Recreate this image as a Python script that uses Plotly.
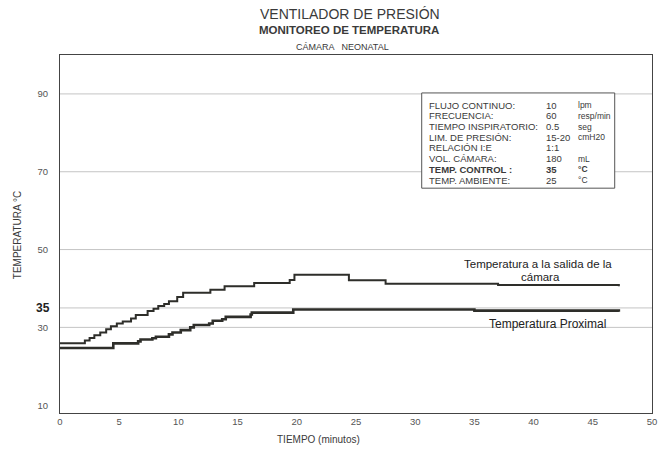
import plotly.graph_objects as go

# ---- data ----
t_salida = [0, 2.1, 2.5, 2.9, 3.4, 3.9, 4.3, 4.8, 5.3, 6.0, 6.4, 7.4, 7.9, 8.3, 8.8,
            9.2, 9.9, 10.4, 12.7, 13.9, 16.4, 19.4, 19.8, 24.4, 27.5, 37.0, 47.2]
temp_salida = [25.9, 26.6, 27.3, 28.0, 28.7, 29.5, 30.3, 31.0, 31.5, 32.3, 33.2, 34.2, 34.8, 35.5, 36.0,
               36.7, 37.8, 38.9, 39.7, 40.6, 41.4, 42.2, 43.5, 42.1, 41.2, 40.9, 40.6]

t_prox = [0, 4.5, 6.6, 6.8, 7.8, 8.1, 9.2, 9.5, 10.2, 11.0, 11.3, 12.6, 12.9, 13.7,
          14.0, 16.1, 16.2, 19.7, 35.0, 47.2]
temp_prox = [24.7, 25.9, 26.4, 26.9, 27.2, 27.6, 28.2, 28.7, 29.3, 30.0, 30.6, 31.0, 31.7, 32.1,
             32.7, 33.3, 33.8, 34.6, 34.3, 34.0]

x_ticks = [0, 5, 10, 15, 20, 25, 30, 35, 40, 45, 50]
y_ticks = [10, 30, 50, 70, 90]
grid_vals = [30, 35, 50, 70, 90]
control_temp = 35

info_labels = ["FLUJO CONTINUO:", "FRECUENCIA:", "TIEMPO INSPIRATORIO:", "LIM. DE PRESIÓN:",
               "RELACIÓN I:E", "VOL. CÁMARA:", "<b>TEMP. CONTROL :</b>", "TEMP. AMBIENTE:"]
info_values = ["10", "60", "0.5", "15-20", "1:1", "180", "<b>35</b>", "25"]
info_units = ["lpm", "resp/min", "seg", "cmH20", "", "mL", "<b>°C</b>", "°C"]

FONT = "Liberation Sans, Arial, sans-serif"
TXT = "#3a3a3a"
LINE = "#2e2e2a"

fig = go.Figure()
fig.add_trace(go.Scatter(x=t_salida, y=temp_salida, mode="lines", line_shape="hv",
                         line=dict(color=LINE, width=2), name="Temperatura a la salida de la cámara"))
fig.add_trace(go.Scatter(x=t_prox, y=temp_prox, mode="lines", line_shape="hv",
                         line=dict(color=LINE, width=2.6), name="Temperatura Proximal"))

shapes = []
for g in grid_vals:
    shapes.append(dict(type="line", xref="paper", x0=0, x1=1, yref="y", y0=g, y1=g,
                       line=dict(color="#c4c4c4", width=1), layer="below"))
# info box
shapes.append(dict(type="rect", xref="paper", yref="paper", x0=0.611, x1=0.937, y0=0.628, y1=0.894,
                   line=dict(color="#555", width=1), fillcolor="white"))

ann = []
# titles
ann.append(dict(text="VENTILADOR DE PRESIÓN", xref="paper", yref="paper", x=0.490, y=1.115,
                showarrow=False, font=dict(size=14, color=TXT, family=FONT), xanchor="center", yanchor="middle"))
ann.append(dict(text="<b>MONITOREO DE TEMPERATURA</b>", xref="paper", yref="paper", x=0.488, y=1.070,
                showarrow=False, font=dict(size=11.5, color=TXT, family=FONT), xanchor="center", yanchor="middle"))
ann.append(dict(text="CÁMARA   NEONATAL", xref="paper", yref="paper", x=0.478, y=1.022,
                showarrow=False, font=dict(size=9, color=TXT, family=FONT), xanchor="center", yanchor="middle"))
# axis titles
ann.append(dict(text="TIEMPO (minutos)", xref="paper", yref="paper", x=0.437, y=-0.075,
                showarrow=False, font=dict(size=10, color=TXT, family=FONT), xanchor="center", yanchor="middle"))
ann.append(dict(text="TEMPERATURA °C", xref="paper", yref="paper", x=-0.0725, y=0.497, textangle=-90,
                showarrow=False, font=dict(size=10, color=TXT, family=FONT), xanchor="center", yanchor="middle"))
# bold 35 label
ann.append(dict(text="<b>35</b>", xref="paper", yref="y", x=-0.013, y=control_temp,
                showarrow=False, font=dict(size=12, color="#222", family=FONT), xanchor="right", yanchor="middle"))
# curve labels
ann.append(dict(text="Temperatura a la salida de la", xref="x", yref="y", x=40.4, y=46.2,
                showarrow=False, font=dict(size=11.5, color="#222", family=FONT), xanchor="center", yanchor="middle"))
ann.append(dict(text="cámara", xref="x", yref="y", x=40.6, y=43.0,
                showarrow=False, font=dict(size=11.5, color="#222", family=FONT), xanchor="center", yanchor="middle"))
ann.append(dict(text="Temperatura Proximal", xref="x", yref="y", x=41.2, y=30.9,
                showarrow=False, font=dict(size=12, color="#222", family=FONT), xanchor="center", yanchor="middle"))
# info box rows
for i, (lab, val, unit) in enumerate(zip(info_labels, info_values, info_units)):
    yy = 0.860 - i * 0.0299
    ann.append(dict(text=lab, xref="paper", yref="paper", x=0.620, y=yy, showarrow=False,
                    font=dict(size=9.5, color=TXT, family=FONT), xanchor="left", yanchor="middle"))
    ann.append(dict(text=val, xref="paper", yref="paper", x=0.817, y=yy, showarrow=False,
                    font=dict(size=9.5, color=TXT, family=FONT), xanchor="left", yanchor="middle"))
    if unit:
        ann.append(dict(text=unit, xref="paper", yref="paper", x=0.871, y=yy, showarrow=False,
                        font=dict(size=8.5, color=TXT, family=FONT), xanchor="left", yanchor="middle"))

fig.update_layout(
    width=662, height=450,
    margin=dict(l=60, r=5, t=55, b=37),
    paper_bgcolor="white", plot_bgcolor="white",
    showlegend=False,
    shapes=shapes, annotations=ann,
    xaxis=dict(range=[0, 50], tickvals=x_ticks, showgrid=False, zeroline=False,
               showline=True, linecolor="#444", linewidth=1, mirror=True,
               tickfont=dict(size=9.5, color="#555", family=FONT), ticks="",
               ticklabeloverflow="allow"),
    yaxis=dict(range=[8, 100], tickvals=y_ticks, showgrid=False, zeroline=False,
               showline=True, linecolor="#444", linewidth=1, mirror=True,
               tickfont=dict(size=9.5, color="#555", family=FONT), ticks="", ticklabelstandoff=9),
)

fig.write_html("out.html", config={"displayModeBar": False},
               post_script="document.body.style.margin='0px';")
